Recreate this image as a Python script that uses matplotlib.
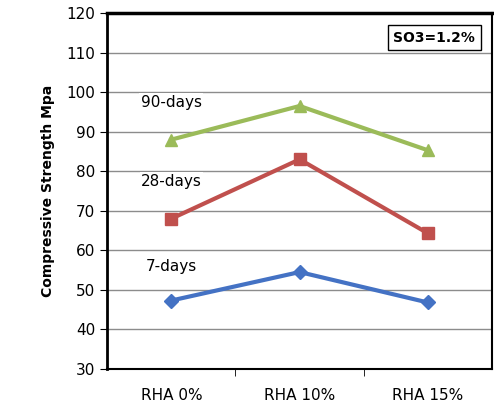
import matplotlib.pyplot as plt

categories = ['RHA 0%', 'RHA 10%', 'RHA 15%']
days7 = [47.3, 54.5, 46.8]
days28 = [68.0, 83.0, 64.3]
days90 = [88.0, 96.5, 85.3]

fig = plt.figure(figsize=(4.94, 4.09), dpi=100)
ax = fig.add_axes([0.217, 0.098, 0.779, 0.870])

x = range(len(categories))
ax.grid(axis='y', color='#8c8c8c', linewidth=1)
ax.set_axisbelow(True)
ax.plot(x, days7, color='#4472C4', marker='D', markersize=7, linewidth=3)
ax.plot(x, days28, color='#C0504D', marker='s', markersize=9, linewidth=3)
ax.plot(x, days90, color='#9BBB59', marker='^', markersize=9, linewidth=3)

lbl = dict(ha='center', va='center', fontsize=11,
           bbox=dict(facecolor='white', edgecolor='none', pad=1))
ax.text(0, 97.5, '90-days', **lbl)
ax.text(0, 77.5, '28-days', **lbl)
ax.text(0, 56, '7-days', **lbl)
ax.text(2.05, 113.8, 'SO3=1.2%', ha='center', va='center', fontsize=10, fontweight='bold',
        bbox=dict(facecolor='white', edgecolor='black', boxstyle='square,pad=0.4'))

ax.set_xlim(-0.5, 2.5)
ax.set_ylim(30, 120)
ax.set_yticks(range(30, 121, 10))
ax.set_xticks(list(x))
ax.set_xticks([0.5, 1.5], minor=True)
ax.set_xticklabels(categories, fontsize=11)
ax.tick_params(axis='y', labelsize=11, direction='out', length=5)
ax.tick_params(axis='x', which='major', length=0, pad=14)
ax.tick_params(axis='x', which='minor', length=5, direction='out')
ax.set_ylabel('Compressive Strength Mpa', fontsize=10, fontweight='bold', labelpad=8)
for s in ax.spines.values():
    s.set_linewidth(1.5)
ax.spines['top'].set_linewidth(2.5)
ax.spines['left'].set_linewidth(2)

fig.savefig('out.png', dpi=100)
